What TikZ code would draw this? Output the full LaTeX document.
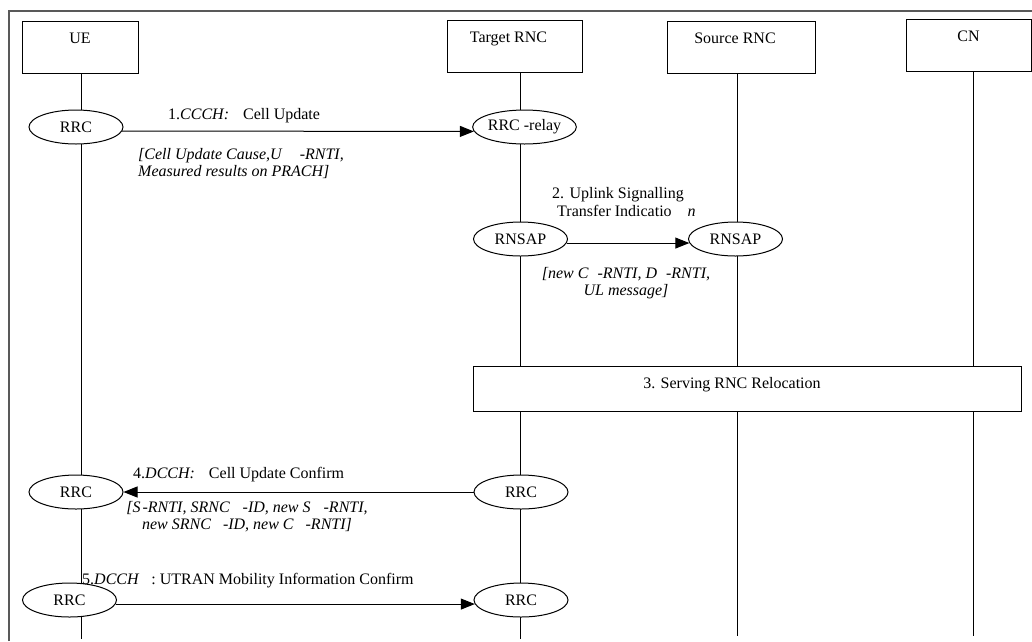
\documentclass[tikz,border=0pt]{standalone}
\usepackage{fontspec}
\setmainfont{Liberation Serif}
\usetikzlibrary{shapes.geometric, arrows.meta}

\begin{document}
\begin{tikzpicture}[
  x=1pt, y=-1pt,
  font=\fontsize{16}{18}\selectfont,
  entity/.style={draw, line width=1pt, inner sep=0pt, minimum height=52pt, text height=11pt, text depth=19pt},
  proto/.style={draw, ellipse, line width=1pt, fill=white, inner sep=0pt, minimum width=94pt, minimum height=34pt},
  phase/.style={draw, line width=1pt, fill=white, inner sep=0pt, text height=11pt, text depth=11pt},
  msg/.style={-{Triangle[length=14pt, width=11pt]}, line width=1pt},
  lifeline/.style={line width=1pt},
  note/.style={font=\fontsize{16}{17}\selectfont\itshape, inner sep=0pt},
  frame/.style={draw=black!65, line width=1.5pt}
]
\useasboundingbox (0,0) rectangle (1032,641);
\draw[frame] (9,641) -- (9,11) -- (1032,11);

\node[entity, minimum width=116pt] (ue) at (80,47) {UE};
\node[entity, minimum width=135pt] (trnc) at (514.5,46) {Target RNC\hspace*{12pt}};
\node[entity, minimum width=148pt] (srnc) at (741,47) {Source RNC\hspace*{12pt}};
\node[entity, minimum width=125pt] (cn) at (968.5,45) {CN};

\coordinate (ueend) at (81,639);
\coordinate (trncend) at (520,639);
\coordinate (srncend) at (737,636);
\coordinate (cnend) at (973,636);
\draw[lifeline] (ue.south -| ueend) -- (ueend);
\draw[lifeline] (trnc.south -| trncend) -- (trncend);
\draw[lifeline] (srnc.south -| srncend) -- (srncend);
\draw[lifeline] (cn.south -| cnend) -- (cnend);

\node[proto] (uerrc1) at (76,127) {RRC};
\node[proto] (relay) at (524.5,127) {RRC -relay};
\node[proto] (trnsap) at (520.5,239) {RNSAP};
\node[proto] (srnsap) at (735.5,239) {RNSAP};
\node[phase, minimum width=548pt, minimum height=45pt] (reloc) at (747,388.5) {3. Serving RNC Relocation\hspace*{30pt}};
\node[proto] (uerrc4) at (76,492) {RRC};
\node[proto] (trrc4) at (521,492) {RRC};
\node[proto] (uerrc5) at (69.5,600) {RRC};
\node[proto] (trrc5) at (521,600) {RRC};

\draw[msg] (uerrc1.-5) -- (relay.185);
\draw[msg] (trnsap.-5) -- (srnsap.185);
\draw[msg] (trrc4.west) -- (uerrc4.east);
\draw[msg] (uerrc5.-5) -- (trrc5.185);

\node[anchor=base west, inner sep=0pt] (m1) at (168,119) {1.\textit{CCCH:}\hspace{14pt}Cell Update};
\node[note, align=left, anchor=west] (p1) at (138,164) {[Cell Update Cause,U\hspace{18pt}-RNTI,\\Measured results on PRACH]};
\node[align=left, anchor=west, inner sep=0pt] (m2) at (552,202) {2. Uplink Signalling\\\hspace*{5pt}Transfer Indicatio\hspace{16pt}\textit{n}};
\node[note, align=center] (p2) at (626,283) {[new C\hspace{9pt}-RNTI, D\hspace{9pt}-RNTI,\\UL message]};
\node[anchor=base west, inner sep=0pt] (m4) at (133,478) {4.\textit{DCCH:}\hspace{14pt}Cell Update Confirm};
\node[note, align=center] (p4) at (247,517) {[S\hspace{2pt}-RNTI, SRNC\hspace{13pt}-ID, new S\hspace{13pt}-RNTI,\\new SRNC\hspace{12pt}-ID, new C\hspace{12pt}-RNTI]};
\node[anchor=base west, inner sep=0pt] (m5) at (82,584) {5.\textit{DCCH}\hspace{12pt}: UTRAN Mobility Information Confirm};
\end{tikzpicture}
\end{document}
